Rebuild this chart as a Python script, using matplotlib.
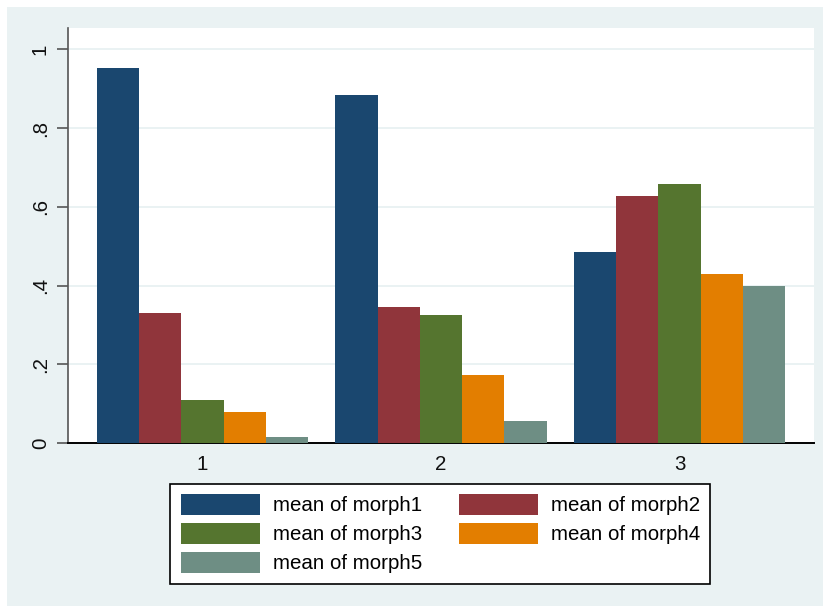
import matplotlib
matplotlib.use("Agg")
import matplotlib.pyplot as plt
from matplotlib.patches import Rectangle
import numpy as np

plt.rcParams['font.family'] = ['Liberation Sans', 'DejaVu Sans']

groups = ["1", "2", "3"]
series = ["mean of morph1", "mean of morph2", "mean of morph3",
          "mean of morph4", "mean of morph5"]
morph1 = [0.952, 0.884, 0.485]
morph2 = [0.331, 0.345, 0.628]
morph3 = [0.109, 0.325, 0.658]
morph4 = [0.079, 0.173, 0.428]
morph5 = [0.015, 0.056, 0.399]
values = [morph1, morph2, morph3, morph4, morph5]
colors = ["#1a476f", "#90353b", "#55752f", "#e37e00", "#6e8e84"]
yticks = [0, 0.2, 0.4, 0.6, 0.8, 1.0]
ytick_labels = ["0", ".2", ".4", ".6", ".8", "1"]

bg = "#EAF2F3"
fig = plt.figure(figsize=(8.23, 6.06), dpi=100)
fig.patch.set_facecolor("white")
fig.patches.append(Rectangle((7 / 823, 0), 1, 1 - 7 / 606, transform=fig.transFigure,
                             facecolor=bg, edgecolor="none", zorder=-10))

ax = fig.add_axes([68 / 823, 1 - 443 / 606, (814 - 68) / 823, (443 - 28) / 606])
ax.set_facecolor("white")

x = np.arange(1, len(groups) + 1)
width = 0.177
n = len(series)
handles = []
for i, (vals, col, lab) in enumerate(zip(values, colors, series)):
    offs = (i - (n - 1) / 2) * width
    b = ax.bar(x + offs, vals, width=width, color=col, label=lab, zorder=3, linewidth=0)
    handles.append(b)

ax.set_xlim(0.436, 3.564)
ax.set_ylim(0, 1.054)
ax.set_xticks(x)
ax.set_xticklabels(groups, fontsize=14.8)
ax.tick_params(axis="x", length=0, pad=9, colors="#111111")
ax.set_yticks(yticks)
ax.set_yticklabels(ytick_labels, fontsize=14.8, rotation=90, va="center")
ax.tick_params(axis="y", length=8, width=1.2, color="#555555", pad=5, labelcolor="#111111")

for y in yticks[1:]:
    ax.axhline(y, color=bg, lw=1.4, zorder=1)

for s in ["top", "right"]:
    ax.spines[s].set_visible(False)
ax.spines["left"].set_color("#555555")
ax.spines["left"].set_linewidth(1.2)
ax.spines["bottom"].set_color("#000000")
ax.spines["bottom"].set_linewidth(1.4)

# legend entries laid out row by row (two columns)
order = [0, 2, 4, 1, 3]
leg = fig.legend([handles[k] for k in order], [series[k] for k in order],
                 loc="upper center", bbox_to_anchor=(0.535, 1 - 484 / 606), ncol=2,
                 fontsize=14.8, frameon=True, fancybox=False, edgecolor="black",
                 framealpha=1, facecolor="white", handlelength=3.85, handleheight=1.15,
                 handletextpad=0.62, columnspacing=1.8, labelspacing=0.38,
                 borderpad=0.5, borderaxespad=0)
leg.get_frame().set_linewidth(1.2)

fig.savefig("out.png", dpi=100, facecolor=fig.get_facecolor())
